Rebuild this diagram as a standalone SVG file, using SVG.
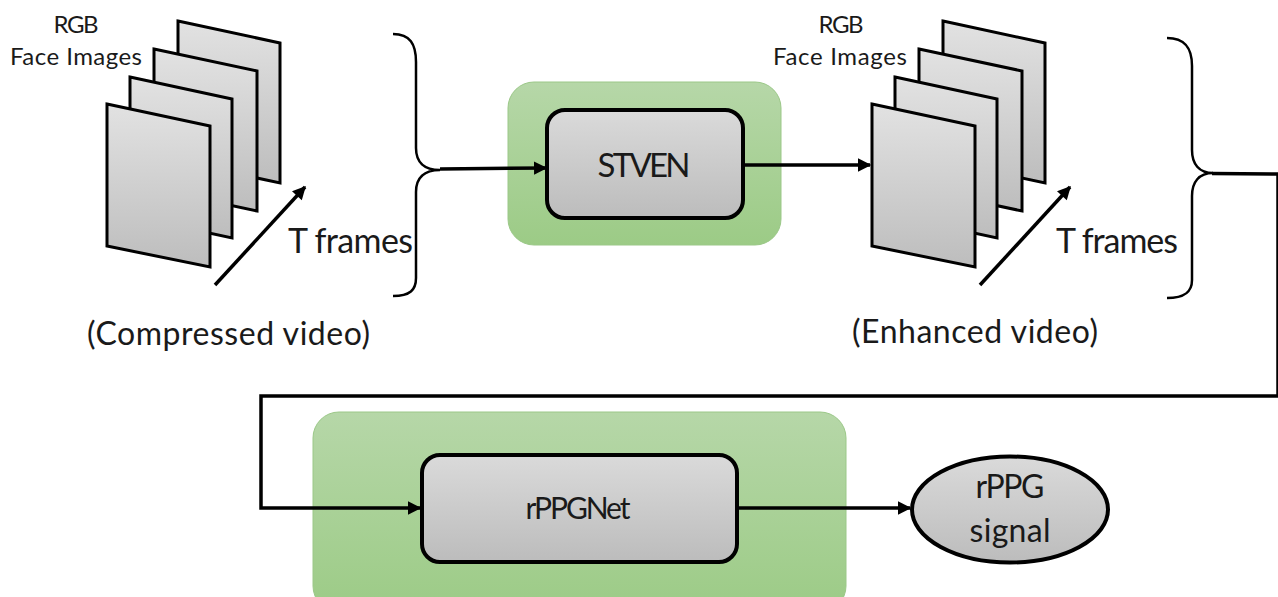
<svg xmlns="http://www.w3.org/2000/svg" width="1278" height="597" viewBox="0 0 1278 597">
  <defs>
    <linearGradient id="gFrame" x1="0" y1="0" x2="0" y2="1">
      <stop offset="0" stop-color="#e2e2e2"/>
      <stop offset="1" stop-color="#bdbdbd"/>
    </linearGradient>
    <linearGradient id="gBox" x1="0" y1="0" x2="0" y2="1">
      <stop offset="0" stop-color="#dadada"/>
      <stop offset="1" stop-color="#bcbcbc"/>
    </linearGradient>
    <linearGradient id="gGreen" x1="0" y1="0" x2="0" y2="1">
      <stop offset="0" stop-color="#b6d7a8"/>
      <stop offset="1" stop-color="#9ccb86"/>
    </linearGradient>
    <marker id="arr" viewBox="0 0 10 10" refX="9" refY="5" markerWidth="4.2" markerHeight="3.8" orient="auto" markerUnits="strokeWidth">
      <path d="M0,0 L10,5 L0,10 z" fill="#000"/>
    </marker>
  </defs>
  <style>
    text { font-family: Lato, "Open Sans", "Liberation Sans", sans-serif; fill: #1a1a1a; }
    .frame { fill: url(#gFrame); stroke: #000; stroke-width: 3; stroke-linejoin: miter; }
    .box { fill: url(#gBox); stroke: #000; stroke-width: 4; }
    .green { fill: url(#gGreen); stroke: #9bc888; stroke-width: 1; }
    .conn { fill: none; stroke: #000; stroke-width: 3.5; }
    .brace { fill: none; stroke: #000; stroke-width: 2.5; }
    .small { font-size: 24px; }
    .mid { font-size: 34px; }
    .vid { font-size: 32px; }
  </style>

  <g id="compressed-video">
    <polygon class="frame" points="178,21 280,43 280,183 178,161"/>
    <polygon class="frame" points="154,49 257,71 257,211 154,189"/>
    <polygon class="frame" points="130,77 232,99 232,238 130,216"/>
    <polygon class="frame" points="107,104 210,126 210,267 107,246"/>
    <text class="small" x="76" y="33" text-anchor="middle" textLength="45">RGB</text>
    <text class="small" x="76" y="65" text-anchor="middle" textLength="132">Face Images</text>
    <line class="conn" x1="215" y1="285" x2="305" y2="187" marker-end="url(#arr)"/>
    <text class="mid" x="288" y="253" textLength="125">T frames</text>
    <text class="vid" x="87" y="345" textLength="283">(Compressed video)</text>
    <path class="brace" d="M393,34 C410,34 416,44 416,62 L416,148 C416,162 424,170 440,170 C424,170 416,178 416,192 L416,278 C416,290 410,296 393,296"/>
  </g>

  <g id="stven">
    <rect class="green" x="508" y="82" width="273" height="163" rx="26"/>
    <rect class="box" x="547" y="110" width="196" height="108" rx="18"/>
    <text x="644" y="177" font-size="33" text-anchor="middle" textLength="93">STVEN</text>
  </g>

  <g id="enhanced-video">
    <polygon class="frame" points="943,21 1045,43 1045,183 943,161"/>
    <polygon class="frame" points="919,49 1022,71 1022,211 919,189"/>
    <polygon class="frame" points="895,77 997,99 997,238 895,216"/>
    <polygon class="frame" points="872,104 975,126 975,267 872,246"/>
    <text class="small" x="841" y="33" text-anchor="middle" textLength="45">RGB</text>
    <text class="small" x="840" y="65" text-anchor="middle" textLength="134">Face Images</text>
    <line class="conn" x1="980" y1="285" x2="1070" y2="187" marker-end="url(#arr)"/>
    <text class="mid" x="1056" y="253" textLength="122">T frames</text>
    <text class="vid" x="852" y="343" textLength="246">(Enhanced video)</text>
    <path class="brace" d="M1167,38 C1185,38 1192,48 1192,66 L1192,150 C1192,164 1199,173 1213,173 C1199,173 1192,182 1192,196 L1192,280 C1192,292 1185,298 1167,298"/>
  </g>

  <g id="rppgnet">
    <rect class="green" x="313" y="412" width="533" height="200" rx="26"/>
    <rect class="box" x="422" y="455" width="315" height="107" rx="18"/>
    <text x="578" y="519" font-size="30" text-anchor="middle" textLength="105">rPPGNet</text>
  </g>

  <g id="rppg-signal">
    <ellipse class="box" cx="1010" cy="509.5" rx="98" ry="53"/>
    <text x="1010" y="498" font-size="32" text-anchor="middle" textLength="69">rPPG</text>
    <text x="1010" y="542" font-size="32" text-anchor="middle" textLength="81">signal</text>
  </g>

  <g id="connectors">
    <path class="conn" d="M440,169 L546,168" marker-end="url(#arr)"/>
    <path class="conn" d="M743,165 L870,165" marker-end="url(#arr)"/>
    <path class="conn" d="M1212,173.5 L1278,174 M1278,174 L1278,396 L261,396 L261,508 L420,508" marker-end="url(#arr)"/>
    <path class="conn" d="M737,508 L910,508" marker-end="url(#arr)"/>
  </g>
</svg>
